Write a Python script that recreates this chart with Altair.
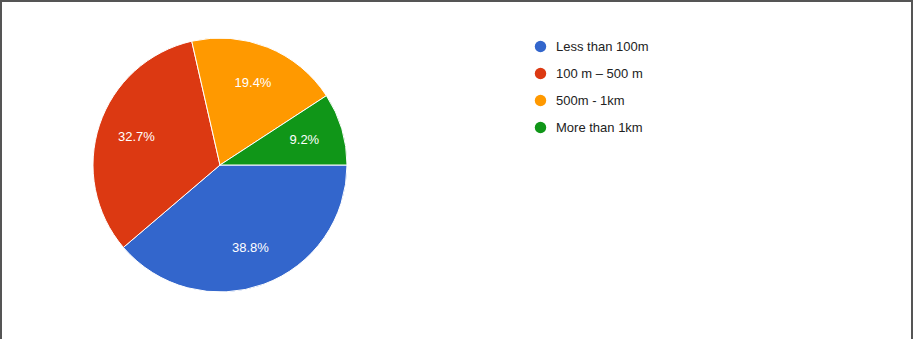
import math
import altair as alt
import pandas as pd

categories = ["Less than 100m", "100 m – 500 m", "500m - 1km", "More than 1km"]
values = [38.8, 32.7, 19.4, 9.2]
colors = ["#3366CC", "#DC3912", "#FF9900", "#109618"]

df = pd.DataFrame({
    "category": categories,
    "value": values,
    "order": list(range(len(categories))),
    "label": [f"{v:.1f}%" for v in values],
})

CX, CY, R = 220, 165, 127
theta_scale = alt.Scale(range=[math.pi / 2, math.pi / 2 + 2 * math.pi])

base = alt.Chart(df).encode(
    theta=alt.Theta("value:Q", stack=True, scale=theta_scale),
    order=alt.Order("order:Q"),
)

arcs = base.mark_arc(outerRadius=R, stroke="white", strokeWidth=1).encode(
    x=alt.value(CX),
    y=alt.value(CY),
    color=alt.Color(
        "category:N",
        scale=alt.Scale(domain=categories, range=colors),
        sort=categories,
        legend=alt.Legend(
            title=None,
            orient="none",
            legendX=534,
            legendY=40,
            symbolType="circle",
            symbolSize=130,
            symbolStrokeWidth=0,
            labelFont="Liberation Sans",
            labelFontSize=13,
            labelColor="#222222",
            labelOffset=9,
            rowPadding=13,
        ),
    ),
)

texts = base.mark_text(
    radius=88, font="Liberation Sans", fontSize=13, color="white", baseline="middle", align="center"
).encode(
    x=alt.value(CX),
    y=alt.value(CY),
    text="label:N",
)

frame_df = pd.DataFrame({"a": [0]})
frame = alt.Chart(frame_df)
top = frame.mark_rule(color="#555555", strokeWidth=2).encode(
    x=alt.value(0), x2=alt.value(913), y=alt.value(1)
)
left = frame.mark_rule(color="#555555", strokeWidth=2).encode(
    x=alt.value(1), y=alt.value(0), y2=alt.value(339)
)
right = frame.mark_rule(color="#555555", strokeWidth=2).encode(
    x=alt.value(912), y=alt.value(0), y2=alt.value(339)
)

chart = alt.layer(arcs, texts, top, left, right).properties(
    width=913, height=339, autosize=alt.AutoSizeParams(type="none"), padding=0,
    background="white",
).configure_view(stroke=None)

chart.save("out.html", embed_options={"renderer": "svg", "actions": False})
